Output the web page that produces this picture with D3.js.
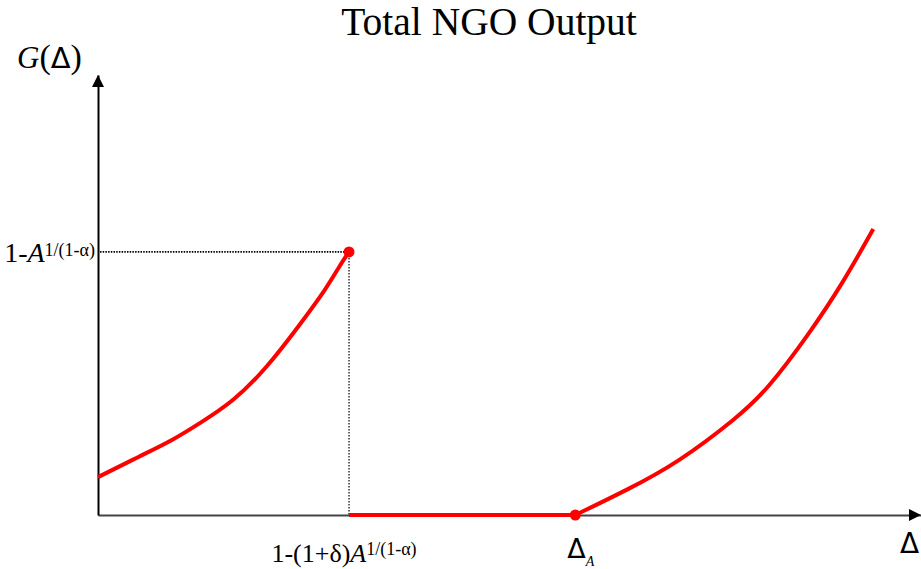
<!DOCTYPE html>
<html><head><meta charset="utf-8">
<script src="https://cdn.jsdelivr.net/npm/d3@7"></script>
<style>body{margin:0;background:#fff}svg{display:block}</style>
</head><body>
<svg id="c" width="921" height="569"></svg>
<script>
// data (conceptual units: x and y both 0..1 along the axes)
const leftX  = [0, 0.051, 0.091, 0.124, 0.164, 0.205, 0.245, 0.278, 0.294, 0.305];
const leftY  = [0.086, 0.134, 0.170, 0.209, 0.257, 0.334, 0.432, 0.516, 0.568, 0.598];
const flatX  = [0.305, 0.580];
const flatY  = [0, 0];
const rightX = [0.580, 0.643, 0.704, 0.776, 0.813, 0.865, 0.905, 0.942];
const rightY = [0, 0.057, 0.118, 0.220, 0.284, 0.414, 0.527, 0.650];
const threshX = 0.305, threshY = 0.598, deltaA = 0.580;
const titleText = "Total NGO Output";

const svg = d3.select("#c");
const x = d3.scaleLinear().domain([0, 1]).range([98, 921]);
const y = d3.scaleLinear().domain([0, 1]).range([515, 75]);
const serif = "'Liberation Serif','Times New Roman',serif";
const sans = "'DejaVu Sans',sans-serif";

// axes
svg.append("g").attr("transform", `translate(0,${y(0)})`)
  .call(d3.axisBottom(x).tickValues([]).tickSizeOuter(0))
  .call(g => g.select(".domain").attr("stroke", "#444").attr("stroke-width", 2));
svg.append("g").attr("transform", `translate(${x(0)},0)`)
  .call(d3.axisLeft(y).tickValues([]).tickSizeOuter(0))
  .call(g => g.select(".domain").attr("stroke", "#000").attr("stroke-width", 2));
// arrowheads
svg.append("path").attr("d", `M${x(1)},${y(0)} L${x(1)-12},${y(0)-6} L${x(1)-12},${y(0)+6} Z`).attr("fill", "#000");
svg.append("path").attr("d", `M${x(0)},${y(1)} L${x(0)-6},${y(1)+12} L${x(0)+6},${y(1)+12} Z`).attr("fill", "#000");

// dotted guides
svg.append("line").attr("x1", x(0)+2).attr("x2", x(threshX)).attr("y1", y(threshY)).attr("y2", y(threshY))
  .attr("stroke", "#000").attr("stroke-width", 1.6).attr("stroke-dasharray", "1.5,1.2");
svg.append("line").attr("x1", x(threshX)).attr("x2", x(threshX)).attr("y1", y(threshY)).attr("y2", y(0))
  .attr("stroke", "#000").attr("stroke-width", 1.2).attr("stroke-dasharray", "1.5,1.5");

// curves
const smooth = d3.line().x(d => x(d[0])).y(d => y(d[1])).curve(d3.curveBasis);
const red = "#ff0000";
[[leftX, leftY], [flatX, flatY], [rightX, rightY]].forEach(([xs, ys]) => {
  svg.append("path").datum(xs.map((v, i) => [v, ys[i]])).attr("d", smooth)
    .attr("fill", "none").attr("stroke", red).attr("stroke-width", 4).attr("stroke-linecap", "butt");
});
svg.append("circle").attr("cx", x(threshX)).attr("cy", y(threshY)).attr("r", 5.5).attr("fill", red);
svg.append("circle").attr("cx", x(deltaA)).attr("cy", y(0)).attr("r", 5.5).attr("fill", red);

// title
svg.append("text").attr("x", 489).attr("y", 35).attr("text-anchor", "middle")
  .attr("font-family", serif).attr("font-size", 39.5).attr("fill", "#000").text(titleText);

// y-axis title G(Δ)
const gt = svg.append("text").attr("x", 17).attr("y", 68).attr("font-family", serif).attr("font-size", 31).attr("fill", "#000");
gt.append("tspan").attr("font-style", "italic").text("G");
gt.append("tspan").attr("font-size", 34).text("(");
gt.append("tspan").attr("font-family", sans).attr("font-size", 29).text("Δ");
gt.append("tspan").attr("font-size", 34).text(")");

// y tick label
const yl = svg.append("text").attr("x", x(0)-3).attr("y", y(threshY)+10).attr("text-anchor", "end")
  .attr("font-family", serif).attr("font-size", 28).attr("fill", "#000");
yl.append("tspan").text("1-");
yl.append("tspan").attr("font-style", "italic").text("A");
yl.append("tspan").attr("font-size", 18).attr("dy", -6).text("1/(1-α)");

// x tick label threshold
const xl = svg.append("text").attr("x", x(threshX)-5).attr("y", 562).attr("text-anchor", "middle")
  .attr("font-family", serif).attr("font-size", 26).attr("fill", "#000");
xl.append("tspan").text("1-(1+δ)");
xl.append("tspan").attr("font-style", "italic").text("A");
xl.append("tspan").attr("font-size", 18).attr("dy", -7).text("1/(1-α)");

// Δ_A
const da = svg.append("text").attr("x", x(deltaA)-8).attr("y", 558).attr("font-family", sans).attr("font-size", 27).attr("fill", "#000");
da.append("tspan").text("Δ");
da.append("tspan").attr("font-family", serif).attr("font-style", "italic").attr("font-size", 14).attr("dy", 8).text("A");

// Δ axis label
svg.append("text").attr("x", 900).attr("y", 553).attr("font-family", sans).attr("font-size", 28).attr("fill", "#000").text("Δ");
</script>
</body></html>
